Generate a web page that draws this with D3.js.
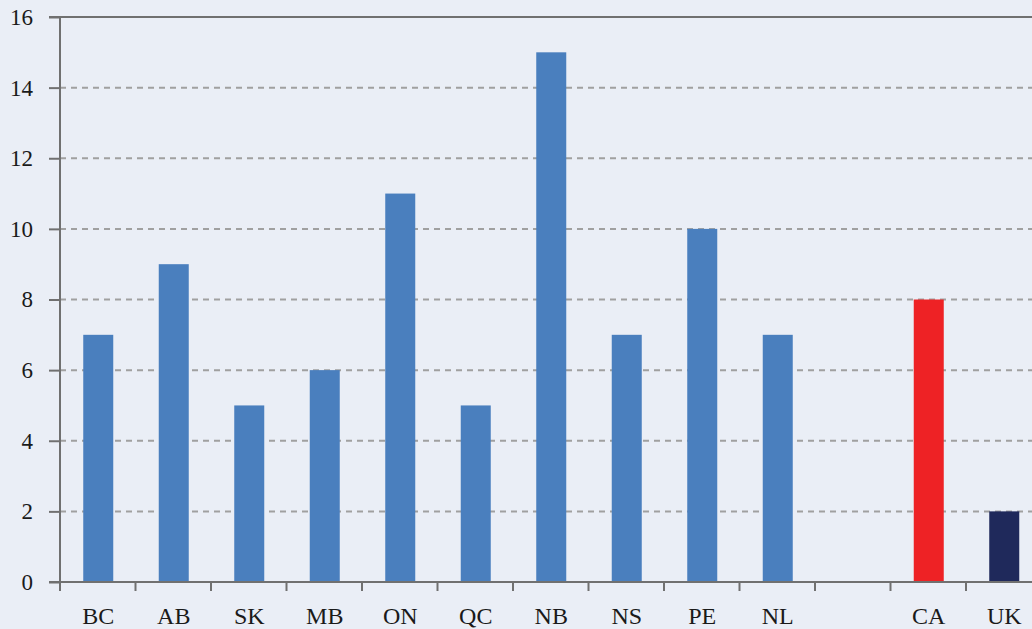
<!DOCTYPE html>
<html><head><meta charset="utf-8">
<script src="https://cdn.jsdelivr.net/npm/d3@7"></script>
<style>
html,body{margin:0;padding:0;background:#eaeef6;}
svg{display:block;}
text{font-family:"Liberation Serif","DejaVu Serif",serif;fill:#1a1a1a;}
</style></head><body>
<svg id="c" width="1032" height="629"></svg>
<script>
const categories = ["BC","AB","SK","MB","ON","QC","NB","NS","PE","NL","","CA","UK"];
const values = [7,9,5,6,11,5,15,7,10,7,null,8,2];
const barColors = ["#4a7fbe","#4a7fbe","#4a7fbe","#4a7fbe","#4a7fbe","#4a7fbe","#4a7fbe","#4a7fbe","#4a7fbe","#4a7fbe","#4a7fbe","#ee2225","#1f295b"];
const yTicks = [0,2,4,6,8,10,12,14,16];

(function(){
const svg = d3.select("#c");
const W = 1032, H = 629;
const mLeft = 60, mTop = 17, mBottom = 582;
const bandW = 75.5;
const keys = categories.map((c,i)=>"k"+i);

const x = d3.scaleBand().domain(keys).range([mLeft, mLeft + bandW*categories.length]).padding(0);
const y = d3.scaleLinear().domain([0,16]).range([mBottom, mTop]);
const barW = 30;

svg.append("rect").attr("width",W).attr("height",H).attr("fill","#eaeef6");

// gridlines
svg.append("g").selectAll("line").data(yTicks.filter(t=>t>0 && t<16)).join("line")
  .attr("x1",mLeft).attr("x2",W).attr("y1",d=>y(d)).attr("y2",d=>y(d))
  .attr("stroke","#a0a0a0").attr("stroke-width",2).attr("stroke-dasharray","6,5");

// top border
svg.append("line").attr("x1",49).attr("x2",W).attr("y1",y(16)).attr("y2",y(16))
  .attr("stroke","#707070").attr("stroke-width",2);

// bars
const barData = values.map((v,i)=>({v,i,k:keys[i]})).filter(d=>d.v!==null);
svg.append("g").selectAll("rect").data(barData).join("rect")
  .attr("x",d=>x(d.k) + (x.bandwidth()-barW)/2 + 0.5)
  .attr("width",barW)
  .attr("y",d=>y(d.v)).attr("height",d=>y(0)-y(d.v))
  .attr("fill",d=>barColors[d.i]);

// y axis
const yAxis = d3.axisLeft(y).tickValues(yTicks).tickSize(11).tickPadding(16).tickFormat(d3.format("d"));
const gy = svg.append("g").attr("transform",`translate(${mLeft},0)`).call(yAxis);
gy.select(".domain").attr("stroke","#707070").attr("stroke-width",2).attr("d",`M0,${mTop}V${mBottom}`);
gy.selectAll(".tick line").attr("stroke","#707070").attr("stroke-width",2);
gy.selectAll(".tick text").attr("font-size",23).attr("font-family","Liberation Serif, serif").attr("fill","#1a1a1a");

// x axis baseline
svg.append("line").attr("x1",49).attr("x2",W).attr("y1",mBottom).attr("y2",mBottom)
  .attr("stroke","#707070").attr("stroke-width",2);

// x tick marks at band boundaries
const bounds = keys.map(k=>x(k)).concat([x.range()[1]]);
svg.append("g").selectAll("line").data(bounds).join("line")
  .attr("x1",d=>d).attr("x2",d=>d).attr("y1",mBottom).attr("y2",mBottom+9)
  .attr("stroke","#707070").attr("stroke-width",2);

// x labels
svg.append("g").selectAll("text").data(categories.map((c,i)=>({c,k:keys[i]}))).join("text")
  .attr("x",d=>x(d.k) + x.bandwidth()/2 + 0.5)
  .attr("y",624)
  .attr("text-anchor","middle")
  .attr("font-size",24)
  .text(d=>d.c);
})();
</script>
</body></html>
